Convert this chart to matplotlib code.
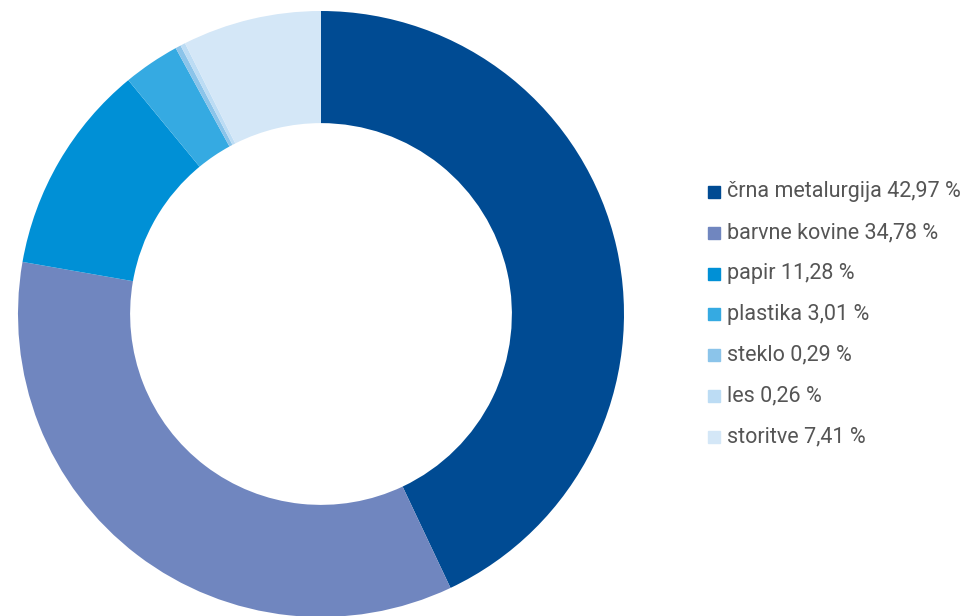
import matplotlib.pyplot as plt
from matplotlib.patches import Rectangle

# data
labels = ['črna metalurgija', 'barvne kovine', 'papir', 'plastika', 'steklo', 'les', 'storitve']
values = [42.97, 34.78, 11.28, 3.01, 0.29, 0.26, 7.41]
colors = ['#004b93', '#7086bf', '#0090d6', '#35aae2', '#8bc4ea', '#bcdcf4', '#d4e7f7']

plt.rcParams['font.family'] = ['Roboto', 'DejaVu Sans']

W, H = 966, 616
fig = plt.figure(figsize=(W / 100, H / 100), dpi=100)

# donut: centre ~(321, 314) px, outer radius ~303 px
cx, cy, r = 321, 314, 303
ax = fig.add_axes([(cx - r) / W, (H - cy - r) / H, 2 * r / W, 2 * r / H])
ax.pie(values, colors=colors, startangle=90, counterclock=False,
       radius=1, wedgeprops=dict(width=0.37, linewidth=0))
ax.set_xlim(-1, 1)
ax.set_ylim(-1, 1)
ax.set_aspect('equal')
ax.axis('off')

# legend drawn by hand
x0, y0, step = 708, 192, 40.8
for i, (lab, val, col) in enumerate(zip(labels, values, colors)):
    y = y0 + i * step
    fig.patches.append(Rectangle((x0 / W, (H - y - 6) / H), 12 / W, 12 / H,
                                 transform=fig.transFigure, color=col))
    txt = f'{lab} {val:.2f} %'.replace('.', ',')
    fig.text((x0 + 19) / W, (H - y) / H, txt, fontsize=15.5, color='#555555',
             va='center', ha='left')

fig.savefig('out.png', dpi=100)
